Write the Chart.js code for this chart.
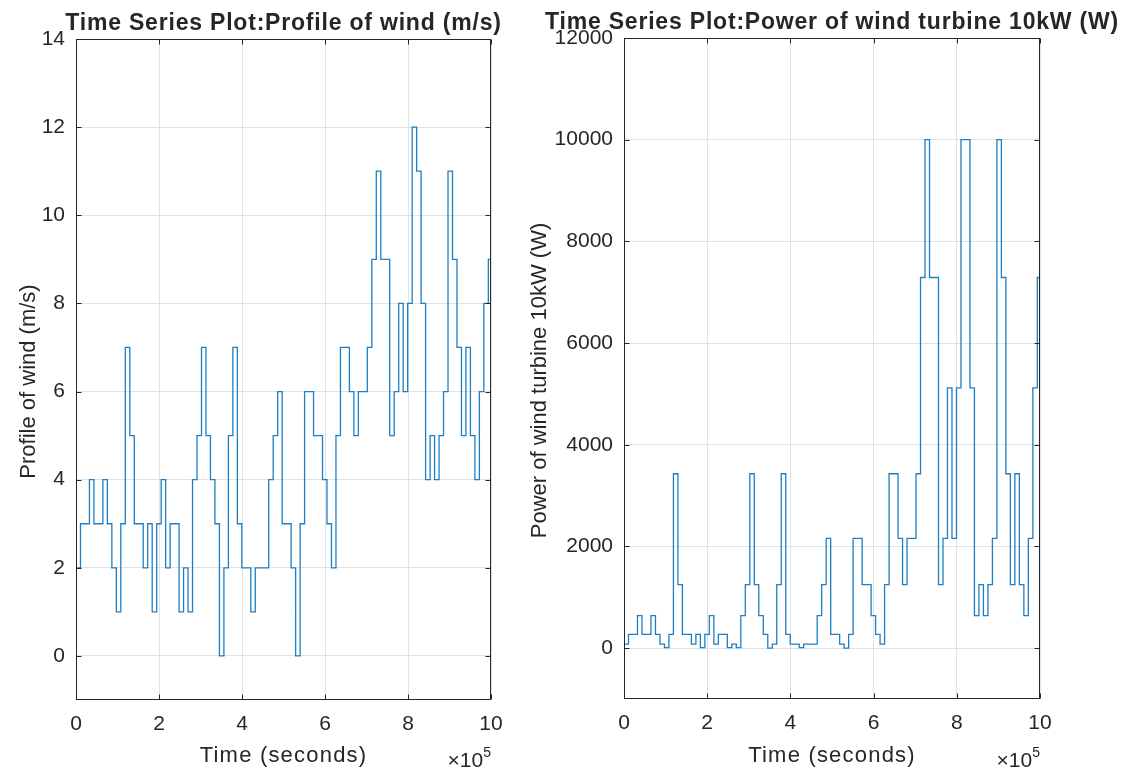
<!DOCTYPE html>
<html>
<head>
<meta charset="utf-8">
<script src="https://cdn.jsdelivr.net/npm/chart.js@4.4.0/dist/chart.umd.min.js"></script>
<style>
html, body { margin: 0; padding: 0; background: #fff; }
#wrap { position: relative; width: 1133px; height: 775px; }
canvas { position: absolute; left: 0; top: 0; }
</style>
</head>
<body>
<div id="wrap">
  <canvas id="windChart" width="1133" height="775"></canvas>
  <canvas id="powerChart" width="1133" height="775"></canvas>
</div>
<script>
// one value per 3 hour slot (10800 s)
const slotSeconds = 10800;

const windSpeed = [
  2, 3, 3, 4, 3, 3, 4, 3, 2, 1,
  3, 7, 5, 3, 3, 2, 3, 1, 3, 4,
  2, 3, 3, 1, 2, 1, 4, 5, 7, 5,
  4, 3, 0, 2, 5, 7, 3, 2, 2, 1,
  2, 2, 2, 4, 5, 6, 3, 3, 2, 0,
  3, 6, 6, 5, 5, 4, 3, 2, 5, 7,
  7, 6, 5, 6, 6, 7, 9, 11, 9, 9,
  5, 6, 8, 6, 8, 12, 11, 8, 4, 5,
  4, 5, 6, 11, 9, 7, 5, 7, 5, 4,
  6, 8, 9
];

const turbinePower = [
  80, 270, 270, 640, 270, 270, 640, 270, 80, 10,
  270, 3430, 1250, 270, 270, 80, 270, 10, 270, 640,
  80, 270, 270, 10, 80, 10, 640, 1250, 3430, 1250,
  640, 270, 0, 80, 1250, 3430, 270, 80, 80, 10,
  80, 80, 80, 640, 1250, 2160, 270, 270, 80, 0,
  270, 2160, 2160, 1250, 1250, 640, 270, 80, 1250, 3430,
  3430, 2160, 1250, 2160, 2160, 3430, 7290, 10000, 7290, 7290,
  1250, 2160, 5120, 2160, 5120, 10000, 10000, 5120, 640, 1250,
  640, 1250, 2160, 10000, 7290, 3430, 1250, 3430, 1250, 640,
  2160, 5120, 7290
];

const timeTicks = [0, 200000, 400000, 600000, 800000, 1000000];
const windTicks = [0, 2, 4, 6, 8, 10, 12, 14];
const powerTicks = [0, 2000, 4000, 6000, 8000, 10000, 12000];

const fontFamily = "'Liberation Sans', Arial, Helvetica, sans-serif";
const textColor = '#262626';
const gridColor = '#e1e1e1';
const lineColor = '#1f7fc4';

function stepPoints(values) {
  const pts = values.map((v, i) => ({ x: i * slotSeconds, y: v }));
  // close the last slot
  pts.push({ x: values.length * slotSeconds, y: values[values.length - 1] });
  return pts;
}

// MATLAB style box, inward ticks, titles and the x10^5 exponent
const matlabAxes = {
  id: 'matlabAxes',
  afterDraw(chart, args, opts) {
    const { ctx, chartArea: a, scales } = chart;
    const L = Math.round(a.left) + 0.5;
    const R = Math.round(a.right) - 0.5;
    const T = Math.round(a.top) + 0.5;
    const B = Math.round(a.bottom) - 0.5;
    ctx.save();
    ctx.strokeStyle = textColor;
    ctx.lineWidth = 1;
    ctx.strokeRect(L, T, R - L, B - T);

    ctx.beginPath();
    scales.x.ticks.forEach(t => {
      const px = Math.round(scales.x.getPixelForValue(t.value)) + 0.5;
      ctx.moveTo(px, B); ctx.lineTo(px, B - 5);
      ctx.moveTo(px, T); ctx.lineTo(px, T + 5);
    });
    scales.y.ticks.forEach(t => {
      const py = Math.round(scales.y.getPixelForValue(t.value)) + 0.5;
      ctx.moveTo(L, py); ctx.lineTo(L + 5, py);
      ctx.moveTo(R, py); ctx.lineTo(R - 5, py);
    });
    ctx.stroke();

    const cx = (a.left + a.right) / 2;
    ctx.fillStyle = textColor;

    // title
    ctx.font = 'bold 23px ' + fontFamily;
    ctx.letterSpacing = '0.8px';
    ctx.textAlign = 'center';
    ctx.textBaseline = 'alphabetic';
    ctx.fillText(opts.title, cx, opts.titleY);

    // x label
    ctx.font = '22px ' + fontFamily;
    ctx.letterSpacing = '1.2px';
    ctx.fillText(opts.xLabel, cx, 762);
    ctx.letterSpacing = '0px';

    // y label
    ctx.save();
    ctx.translate(opts.yLabelX, (a.top + a.bottom) / 2 + 12);
    ctx.rotate(-Math.PI / 2);
    ctx.font = '22px ' + fontFamily;
    ctx.fillText(opts.yLabel, 0, 0);
    ctx.restore();

    // exponent
    ctx.textAlign = 'right';
    ctx.font = '14px ' + fontFamily;
    const w5 = ctx.measureText('5').width;
    ctx.fillText('5', a.right, 757);
    ctx.font = '21px ' + fontFamily;
    ctx.fillText('\u00d710', a.right - w5, 767);
    ctx.restore();
  }
};

function makeChart(canvasId, values, yMin, yMax, yTicks, yWidth, padding, opts) {
  const ctx = document.getElementById(canvasId).getContext('2d');
  return new Chart(ctx, {
    type: 'line',
    data: {
      datasets: [{
        data: stepPoints(values),
        stepped: 'before',
        borderColor: lineColor,
        borderWidth: 1.3,
        pointRadius: 0,
        fill: false
      }]
    },
    options: {
      responsive: false,
      animation: false,
      layout: { padding: padding },
      plugins: {
        legend: { display: false },
        tooltip: { enabled: false },
        matlabAxes: opts
      },
      scales: {
        x: {
          type: 'linear',
          min: 0,
          max: 1000000,
          afterBuildTicks: s => { s.ticks = timeTicks.map(v => ({ value: v })); },
          afterFit: s => { s.height = 50; },
          ticks: {
            autoSkip: false,
            maxRotation: 0,
            padding: 12,
            color: textColor,
            font: { family: fontFamily, size: 21 },
            callback: v => String(v / 100000)
          },
          grid: { color: gridColor, drawTicks: false },
          border: { display: false }
        },
        y: {
          type: 'linear',
          min: yMin,
          max: yMax,
          afterBuildTicks: s => { s.ticks = yTicks.map(v => ({ value: v })); },
          afterFit: s => { s.width = yWidth; },
          ticks: {
            autoSkip: false,
            padding: 11,
            color: textColor,
            font: { family: fontFamily, size: 21 },
            callback: v => String(v)
          },
          grid: { color: gridColor, drawTicks: false },
          border: { display: false }
        }
      }
    },
    plugins: [matlabAxes]
  });
}

makeChart('windChart', windSpeed, -1, 14, windTicks, 76,
  { left: 0, right: 642, top: 39, bottom: 25 },
  { title: 'Time Series Plot:Profile of wind (m/s)', titleY: 30,
    xLabel: 'Time (seconds)', yLabel: 'Profile of wind (m/s)', yLabelX: 35 });

makeChart('powerChart', turbinePower, -1000, 12000, powerTicks, 104,
  { left: 520, right: 93, top: 38, bottom: 26 },
  { title: 'Time Series Plot:Power of wind turbine 10kW (W)', titleY: 29,
    xLabel: 'Time (seconds)', yLabel: 'Power of wind turbine 10kW (W)', yLabelX: 546 });
</script>
</body>
</html>
